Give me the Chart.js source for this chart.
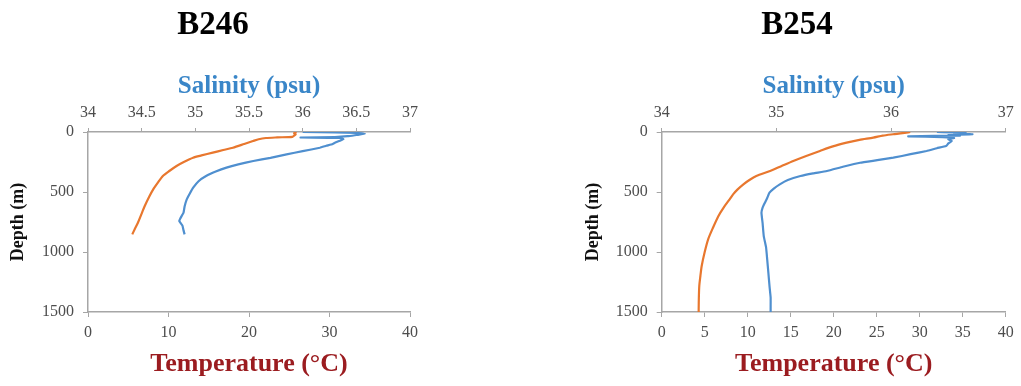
<!DOCTYPE html>
<html><head><meta charset="utf-8">
<script src="https://cdn.jsdelivr.net/npm/chart.js@4.4.1/dist/chart.umd.min.js"></script>
<style>
html,body{margin:0;padding:0;background:#fff;width:1021px;height:386px;overflow:hidden;position:relative}
canvas{position:absolute;top:0}
</style></head>
<body>
<canvas id="c1" width="480" height="386" style="left:0px"></canvas>
<canvas id="c2" width="541" height="386" style="left:480px"></canvas>
<script>
// ---- Labels / ticks ----
const stationNames = ['B246', 'B254'];
const depthTicks = [0, 500, 1000, 1500];
const tempTicksB246 = [0, 10, 20, 30, 40];
const salTicksB246 = [34, 34.5, 35, 35.5, 36, 36.5, 37];
const tempTicksB254 = [0, 5, 10, 15, 20, 25, 30, 35, 40];
const salTicksB254 = [34, 35, 36, 37];

// ---- B246 profiles ----
const tempDepthB246 = [0, 10, 20, 30, 40, 45, 50, 60, 75, 100, 131, 150, 172, 195, 214, 250, 283, 325, 367, 420, 478, 540, 617, 690, 756, 810, 853];
const tempB246 = [25.9, 25.6, 25.8, 25.6, 25.4, 23.5, 22.1, 21.2, 20.5, 19.4, 18.0, 16.8, 15.5, 14.1, 13.05, 11.9, 11.0, 10.1, 9.3, 8.7, 8.1, 7.6, 7.05, 6.6, 6.2, 5.8, 5.5];
const salDepthB246 = [0, 3, 8, 15, 25, 35, 42, 46, 50, 60, 75, 90, 100, 115, 131, 160, 186, 215, 242, 270, 297, 330, 367, 410, 464, 510, 561, 620, 672, 720, 742, 780, 820, 853];
const salB246 = [36.00, 36.30, 36.50, 36.58, 36.50, 36.42, 36.30, 35.98, 36.35, 36.38, 36.34, 36.30, 36.28, 36.22, 36.16, 36.00, 35.85, 35.70, 35.54, 35.40, 35.29, 35.19, 35.10, 35.03, 34.98, 34.95, 34.92, 34.90, 34.89, 34.86, 34.85, 34.88, 34.89, 34.90];

// ---- B254 profiles ----
const tempDepthB254 = [0, 10, 19, 30, 47, 65, 89, 120, 158, 200, 242, 285, 325, 367, 400, 436, 480, 520, 561, 630, 700, 800, 894, 1000, 1117, 1200, 1283, 1380, 1475, 1500];
const tempB254 = [28.9, 28.0, 26.9, 25.7, 24.6, 23.0, 21.5, 19.9, 18.4, 16.8, 15.3, 13.9, 12.6, 11.0, 10.2, 9.5, 8.8, 8.3, 7.9, 7.2, 6.6, 5.95, 5.4, 5.0, 4.65, 4.5, 4.37, 4.32, 4.3, 4.3];
const salDepthB254 = [0, 5, 12, 19, 25, 30, 36, 42, 50, 60, 75, 95, 117, 135, 158, 185, 214, 235, 256, 290, 325, 345, 367, 400, 436, 470, 506, 550, 589, 630, 672, 760, 867, 960, 1061, 1170, 1283, 1380, 1475, 1500];
const salB254 = [36.40, 36.65, 36.55, 36.71, 36.50, 36.60, 36.15, 36.45, 36.55, 36.50, 36.53, 36.50, 36.48, 36.40, 36.31, 36.17, 36.02, 35.88, 35.73, 35.58, 35.44, 35.32, 35.21, 35.10, 35.03, 34.98, 34.94, 34.92, 34.90, 34.88, 34.87, 34.88, 34.89, 34.91, 34.92, 34.93, 34.94, 34.95, 34.95, 34.95];

const TEMP_COLOR = '#E8772E';
const SAL_COLOR = '#4F8FCF';
const AXIS_COLOR = '#A6A6A6';
const TICK_COLOR = '#4d4d4d';
const SERIF = "'Liberation Serif', 'DejaVu Serif', serif";

function pts(xs, ds) { return xs.map((v, i) => ({ x: v, y: ds[i] })); }
function fixedTicks(arr) { return (scale) => { scale.ticks = arr.map(v => ({ value: v })); }; }
function fmt(v) { return String(Math.round(v * 10) / 10); }

function makeChart(id, name, g, temp, tempD, sal, salD, tTicks, sTicks) {
  const tickFont = { family: SERIF, size: 16 };
  return new Chart(document.getElementById(id), {
    type: 'scatter',
    data: {
      datasets: [
        { label: 'Salinity', data: pts(sal, salD), xAxisID: 'xS', yAxisID: 'y',
          showLine: true, borderColor: SAL_COLOR, backgroundColor: SAL_COLOR,
          borderWidth: 2.2, pointRadius: 0, tension: 0.12 },
        { label: 'Temperature', data: pts(temp, tempD), xAxisID: 'xT', yAxisID: 'y',
          showLine: true, borderColor: TEMP_COLOR, backgroundColor: TEMP_COLOR,
          borderWidth: 2.2, pointRadius: 0, tension: 0.25 }
      ]
    },
    options: {
      responsive: false, animation: false,
      layout: { padding: { left: g.pl, right: g.pr, top: 0, bottom: 0 } },
      plugins: {
        legend: { display: false }, tooltip: { enabled: false },
        title: { display: true, text: name, color: '#000',
          font: { family: SERIF, size: 33, weight: 'bold', lineHeight: 1.2 },
          padding: { top: 6, bottom: 0 } }
      },
      scales: {
        xS: { type: 'linear', position: 'top', min: sTicks[0], max: sTicks[sTicks.length - 1],
          afterBuildTicks: fixedTicks(sTicks),
          afterFit: (s) => { s.height = 86.4; },
          ticks: { font: tickFont, color: TICK_COLOR, padding: 6, maxRotation: 0, autoSkip: false, callback: fmt },
          grid: { drawOnChartArea: false, drawTicks: true, tickLength: 4, color: AXIS_COLOR },
          border: { display: true, color: AXIS_COLOR, width: 1.5 },
          title: { display: true, text: 'Salinity (psu)', color: '#3A86C8',
            font: { family: SERIF, size: 25, weight: 'bold', lineHeight: 1.2 }, padding: { top: 26, bottom: 0 } } },
        xT: { type: 'linear', position: 'bottom', min: tTicks[0], max: tTicks[tTicks.length - 1],
          afterBuildTicks: fixedTicks(tTicks),
          afterFit: (s) => { s.height = 74; },
          ticks: { font: tickFont, color: TICK_COLOR, padding: 6, maxRotation: 0, autoSkip: false, callback: fmt },
          grid: { drawOnChartArea: false, drawTicks: true, tickLength: 5, color: AXIS_COLOR },
          border: { display: true, color: AXIS_COLOR, width: 1.5 },
          title: { display: true, text: 'Temperature (°C)', color: '#9B1C20',
            font: { family: SERIF, size: 26, weight: 'bold', lineHeight: 1.2 }, padding: { top: 0, bottom: 6 } } },
        y: { type: 'linear', position: 'left', reverse: true, min: 0, max: 1500,
          afterBuildTicks: fixedTicks(depthTicks),
          afterFit: (s) => { s.width = g.yw; },
          ticks: { font: tickFont, color: TICK_COLOR, padding: 9, autoSkip: false, callback: (v) => String(v) },
          grid: { drawOnChartArea: false, drawTicks: true, tickLength: 5, color: AXIS_COLOR },
          border: { display: true, color: AXIS_COLOR, width: 1.5 },
          title: { display: true, text: 'Depth (m)', color: '#111',
            font: { family: SERIF, size: 18, weight: 'bold', lineHeight: 1 }, padding: { top: g.yt, bottom: 0 } } }
      }
    }
  });
}

makeChart('c1', stationNames[0], { pl: 16, pr: 70, yw: 72, yt: -7 },
  tempB246, tempDepthB246, salB246, salDepthB246, tempTicksB246, salTicksB246);
makeChart('c2', stationNames[1], { pl: 108.3, pr: 15.3, yw: 73.4, yt: -4.3 },
  tempB254, tempDepthB254, salB254, salDepthB254, tempTicksB254, salTicksB254);
</script>
</body></html>
